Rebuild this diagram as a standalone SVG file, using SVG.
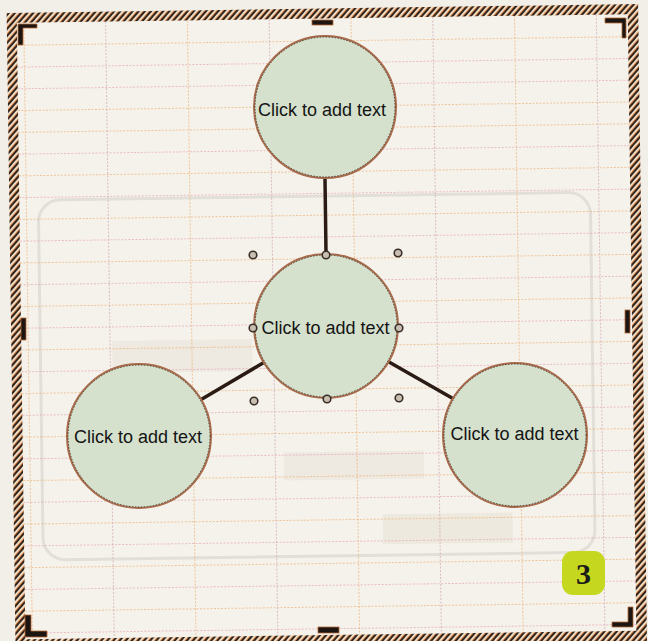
<svg xmlns="http://www.w3.org/2000/svg" width="648" height="641" viewBox="0 0 648 641">
  <defs>
    <pattern id="hatch" patternUnits="userSpaceOnUse" width="4.6" height="4.6" patternTransform="rotate(42)">
      <rect width="4.6" height="4.6" fill="#eedcc4"/>
      <rect x="0" width="0.9" height="4.6" fill="#d07a40"/>
      <rect x="0.9" width="1.8" height="4.6" fill="#2a1f18"/>
    </pattern>
    <style>
      .hl { stroke-width: 1; stroke-dasharray: 2 1.5; fill: none; opacity: 0.75; }
      .o { stroke: #ecb57c; }
      .p { stroke: #e7a9b3; }
      .m { stroke: #cfaab8; }
      .node circle.shape { fill: #d5e1cd; stroke: #a86c4c; stroke-width: 2; }
      .node circle.edge { fill: none; stroke: #3a2c24; stroke-width: 0.8; stroke-dasharray: 1.5 1.5; }
      .node text { font-family: "Liberation Sans", Arial, sans-serif; font-size: 18px; fill: #141414; text-anchor: middle; }
      .conn line { stroke: #2a1c14; stroke-width: 3.5; stroke-linecap: round; }
      .handle circle { fill: #c9bfb0; stroke: #3a2e28; stroke-width: 1.6; }
      .mark { fill: #1c1511; stroke: #b86a38; stroke-width: 0.8; }
      .ghost { fill: none; stroke: #e2ded8; stroke-width: 3; }
    </style>
  </defs>

  <rect x="0" y="0" width="648" height="641" fill="#f2eee8"/>

  <g id="page" transform="rotate(-0.8 324 322)">
    <rect x="21" y="18.5" width="611" height="616.5" fill="#f5f2ec"/>
    <rect class="ghost" x="40" y="196" width="552" height="360" rx="22"/>
    <rect x="112" y="338" width="140" height="32" fill="#eee9e1"/>
    <rect x="282" y="452" width="140" height="28" fill="#eee9e1"/>
    <rect x="380" y="515" width="130" height="30" fill="#eee9df"/>
    <g id="grid">
      <line class="hl o" x1="21" y1="41" x2="632" y2="41"/>
      <line class="hl p" x1="21" y1="62.8" x2="632" y2="62.8"/>
      <line class="hl p" x1="21" y1="84.5" x2="632" y2="84.5"/>
      <line class="hl o" x1="21" y1="106.3" x2="632" y2="106.3"/>
      <line class="hl o" x1="21" y1="128.1" x2="632" y2="128.1"/>
      <line class="hl p" x1="21" y1="149.9" x2="632" y2="149.9"/>
      <line class="hl o" x1="21" y1="171.6" x2="632" y2="171.6"/>
      <line class="hl p" x1="21" y1="193.4" x2="632" y2="193.4"/>
      <line class="hl o" x1="21" y1="215.2" x2="632" y2="215.2"/>
      <line class="hl p" x1="21" y1="236.9" x2="632" y2="236.9"/>
      <line class="hl o" x1="21" y1="258.7" x2="632" y2="258.7"/>
      <line class="hl p" x1="21" y1="280.5" x2="632" y2="280.5"/>
      <line class="hl o" x1="21" y1="302.2" x2="632" y2="302.2"/>
      <line class="hl p" x1="21" y1="324" x2="632" y2="324"/>
      <line class="hl o" x1="21" y1="345.8" x2="632" y2="345.8"/>
      <line class="hl p" x1="21" y1="367.6" x2="632" y2="367.6"/>
      <line class="hl o" x1="21" y1="389.3" x2="632" y2="389.3"/>
      <line class="hl p" x1="21" y1="411.1" x2="632" y2="411.1"/>
      <line class="hl o" x1="21" y1="432.9" x2="632" y2="432.9"/>
      <line class="hl p" x1="21" y1="454.6" x2="632" y2="454.6"/>
      <line class="hl o" x1="21" y1="476.4" x2="632" y2="476.4"/>
      <line class="hl p" x1="21" y1="498.2" x2="632" y2="498.2"/>
      <line class="hl o" x1="21" y1="519.9" x2="632" y2="519.9"/>
      <line class="hl p" x1="21" y1="541.7" x2="632" y2="541.7"/>
      <line class="hl o" x1="21" y1="563.5" x2="632" y2="563.5"/>
      <line class="hl p" x1="21" y1="585.3" x2="632" y2="585.3"/>
      <line class="hl o" x1="21" y1="607" x2="632" y2="607"/>
      <line class="hl p" x1="21" y1="628.8" x2="632" y2="628.8"/>
      <line class="hl o" x1="28" y1="18.5" x2="28" y2="635"/>
      <line class="hl m" x1="109.8" y1="18.5" x2="109.8" y2="635"/>
      <line class="hl o" x1="191.6" y1="18.5" x2="191.6" y2="635"/>
      <line class="hl m" x1="273.4" y1="18.5" x2="273.4" y2="635"/>
      <line class="hl o" x1="355.2" y1="18.5" x2="355.2" y2="635"/>
      <line class="hl m" x1="437" y1="18.5" x2="437" y2="635"/>
      <line class="hl o" x1="518.8" y1="18.5" x2="518.8" y2="635"/>
      <line class="hl m" x1="600.6" y1="18.5" x2="600.6" y2="635"/>
    </g>
    <path id="frame" fill="url(#hatch)" fill-rule="evenodd" d="M11 8.5 H642.5 V646 H11 Z M21 18.5 V635 H632 V18.5 Z"/>
  </g>

  <g id="marks">
    <path class="mark" d="M18 24 H37 V28 H23 V45 H18 Z"/>
    <path class="mark" d="M605 18 H626 V38 H622 V23 H605 Z"/>
    <path class="mark" d="M628 607 H633 V627 H612 V622 H628 Z"/>
    <path class="mark" d="M25 615 H31 V631 H47 V637 H25 Z"/>
    <rect class="mark" x="312" y="20" width="21" height="5"/>
    <rect class="mark" x="318" y="627" width="21" height="6"/>
    <rect class="mark" x="21" y="318" width="5" height="22"/>
    <rect class="mark" x="625" y="310" width="5" height="23"/>
  </g>

  <g id="connectors" class="conn">
    <line x1="325" y1="179" x2="326" y2="253"/>
    <line x1="263" y1="363" x2="202" y2="399"/>
    <line x1="389" y1="362" x2="452" y2="398"/>
  </g>

  <g id="node-top" class="node">
    <circle class="shape" cx="325" cy="107" r="71"/>
    <circle class="edge" cx="325" cy="107" r="70"/>
    <text x="322" y="116">Click to add text</text>
  </g>
  <g id="node-center" class="node">
    <circle class="shape" cx="326" cy="326" r="72"/>
    <circle class="edge" cx="326" cy="326" r="71"/>
    <text x="325.5" y="334">Click to add text</text>
  </g>
  <g id="node-left" class="node">
    <circle class="shape" cx="139" cy="436" r="72"/>
    <circle class="edge" cx="139" cy="436" r="71"/>
    <text x="138" y="443">Click to add text</text>
  </g>
  <g id="node-right" class="node">
    <circle class="shape" cx="515" cy="435" r="72"/>
    <circle class="edge" cx="515" cy="435" r="71"/>
    <text x="514.5" y="440">Click to add text</text>
  </g>

  <g id="handles" class="handle">
    <circle cx="253" cy="255" r="3.8"/>
    <circle cx="326" cy="255" r="3.8"/>
    <circle cx="398" cy="253" r="3.8"/>
    <circle cx="253" cy="328" r="3.8"/>
    <circle cx="399" cy="328" r="3.8"/>
    <circle cx="254" cy="401" r="3.8"/>
    <circle cx="327" cy="399" r="3.8"/>
    <circle cx="399" cy="398" r="3.8"/>
  </g>

  <g id="badge">
    <rect x="562" y="551" width="43" height="44" rx="11" fill="#c6d71f"/>
    <text x="583.5" y="584" font-family="Liberation Serif, 'Times New Roman', serif" font-weight="bold" font-size="30" fill="#1a1a1a" text-anchor="middle">3</text>
  </g>
</svg>
